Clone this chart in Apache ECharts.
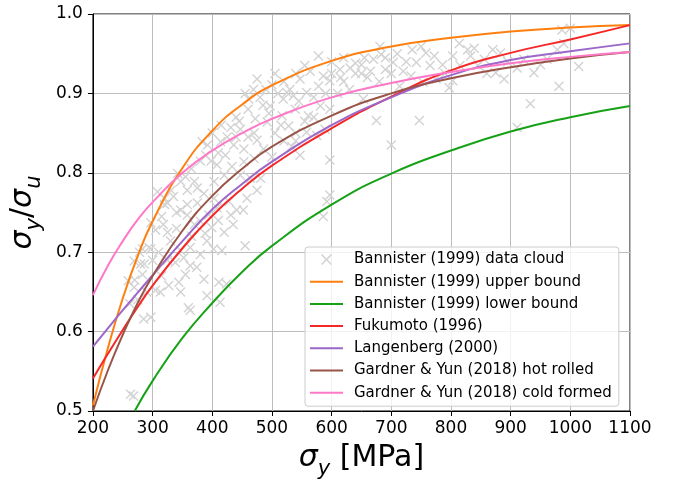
<!DOCTYPE html>
<html>
<head>
<meta charset="utf-8">
<script src="https://cdn.jsdelivr.net/npm/echarts@6/dist/echarts.min.js"></script>
<style>html,body{margin:0;padding:0;background:#fff}#c{width:675px;height:485px}</style>
</head>
<body>
<div id="c"></div>
<script>
// ---- data ----
const xTicks = [200, 300, 400, 500, 600, 700, 800, 900, 1000, 1100];
const yTicks = [0.5, 0.6, 0.7, 0.8, 0.9, 1.0];

const seriesNames = [
  'Bannister (1999) data cloud',
  'Bannister (1999) upper bound',
  'Bannister (1999) lower bound',
  'Fukumoto (1996)',
  'Langenberg (2000)',
  'Gardner & Yun (2018) hot rolled',
  'Gardner & Yun (2018) cold formed'
];

// scatter cloud: [yield stress (MPa), yield/ultimate ratio]
const cloudPoints = [
  [263,0.521],[268,0.519],
  [262,0.635],[269,0.656],[259,0.664],[280,0.685],[283,0.704],[294,0.706],[285,0.616],[297,0.618],[283,0.672],[269,0.689],
  [297,0.737],[278,0.700],[297,0.704],[286,0.685],[305,0.728],[318,0.735],
  [313,0.650],[327,0.658],[305,0.652],[347,0.650],[344,0.662],[355,0.672],[363,0.627],[360,0.630],[338,0.687],[352,0.693],
  [363,0.683],[374,0.681],[386,0.666],[411,0.662],[424,0.660],[413,0.637],[391,0.645],[330,0.714],[347,0.702],[363,0.706],
  [380,0.697],[391,0.714],[402,0.704],[416,0.702],[388,0.724],[399,0.731],[380,0.739],[394,0.747],[358,0.747],[347,0.753],
  [441,0.753],[452,0.753],[455,0.708],
  [475,0.918],[469,0.905],[500,0.911],[461,0.893],[497,0.884],[519,0.893],[431,0.857],[447,0.855],[472,0.868],[492,0.864],
  [517,0.872],[528,0.859],[392,0.835],[414,0.839],[436,0.835],[453,0.830],[475,0.841],[422,0.822],[408,0.810],[433,0.808],
  [453,0.814],[470,0.818],[486,0.830],[389,0.822],[370,0.789],[375,0.781],[403,0.789],[420,0.797],[447,0.797],[464,0.793],
  [481,0.793],[358,0.778],[386,0.774],[403,0.768],[375,0.762],[358,0.760],[408,0.756],[428,0.764],[431,0.747],[458,0.768],
  [475,0.778],[331,0.778],[320,0.768],[325,0.762],[383,0.839],[320,0.760],[308,0.776],[347,0.789],[342,0.799],
  [455,0.900],[490,0.905],[510,0.900],[485,0.885],[530,0.905],[440,0.870],[460,0.845],[505,0.850],[500,0.820],[520,0.840],
  [540,0.850],[495,0.875],
  [400,0.850],[415,0.860],[425,0.845],[445,0.865],[410,0.825],[398,0.815],[365,0.805],[380,0.815],[355,0.795],[335,0.770],
  [340,0.750],[315,0.745],[325,0.725],[340,0.730],[370,0.735],[410,0.740],[420,0.725],[435,0.735],[365,0.720],[310,0.700],
  [325,0.690],[300,0.690],[315,0.670],[290,0.650],[275,0.640],[270,0.665],
  [480,0.895],[505,0.925],[520,0.915],[540,0.925],[555,0.935],[545,0.890],[570,0.895],[590,0.900],[600,0.925],[615,0.920],
  [650,0.925],[655,0.945],[690,0.945],[710,0.950],[725,0.940],[735,0.955],[765,0.935],[790,0.925],[815,0.935],[845,0.935],
  [860,0.925],[870,0.955],[895,0.940],[515,0.860],[555,0.865],[570,0.870],[540,0.840],[460,0.880],[470,0.850],[440,0.845],
  [578,0.947],[564,0.928],[547,0.918],[586,0.922],[614,0.930],[631,0.932],[650,0.936],[670,0.943],[683,0.949],[681,0.959],
  [703,0.939],[720,0.928],[742,0.939],[758,0.951],[772,0.947],[786,0.936],[803,0.947],[814,0.963],[828,0.955],[833,0.947],
  [750,0.959],[536,0.897],[558,0.901],[578,0.909],[597,0.916],[539,0.880],[561,0.872],[581,0.884],[597,0.880],[653,0.893],
  [675,0.866],[747,0.866],[700,0.835],[597,0.816],[547,0.822],[533,0.833],[575,0.847],[589,0.855],[558,0.851],[597,0.772],
  [592,0.764],[586,0.745],[775,0.918],[797,0.907],[803,0.916],[753,0.914],[733,0.922],[714,0.909],[525,0.901],
  [620,0.915],[640,0.925],[660,0.920],[690,0.930],[610,0.900],[630,0.905],[680,0.915],[700,0.925],[600,0.940],[620,0.945],
  [640,0.938],[665,0.928],
  [839,0.957],[856,0.943],[883,0.951],[875,0.926],[889,0.918],[911,0.932],[939,0.926],[950,0.936],[961,0.943],[978,0.955],
  [989,0.963],[986,0.980],[1000,0.982],[1014,0.934],[981,0.909],[933,0.887],[911,0.857],[922,0.943]
];

// curves, sampled at these stresses
const curveX = [200, 225, 250, 275, 300, 350, 400, 450, 500, 600, 700, 800, 900, 1000, 1100];
const upperBound  = [0.507,0.579,0.642,0.695,0.739,0.806,0.853,0.886,0.910,0.941,0.959,0.970,0.978,0.983,0.986];
const fukumoto    = [0.541,0.572,0.602,0.631,0.658,0.705,0.746,0.780,0.809,0.856,0.896,0.929,0.951,0.968,0.986];
const langenberg  = [0.581,0.604,0.627,0.649,0.671,0.714,0.754,0.786,0.814,0.860,0.895,0.923,0.942,0.953,0.963];
const gyHotRolled = [0.500,0.551,0.596,0.636,0.670,0.727,0.771,0.805,0.833,0.872,0.900,0.919,0.933,0.944,0.952];
const gyColdFormed= [0.646,0.683,0.714,0.741,0.763,0.800,0.828,0.850,0.868,0.895,0.913,0.927,0.938,0.946,0.952];
const lowerX      = [270, 300, 350, 400, 450, 500, 600, 700, 800, 900, 1000, 1100];
const lowerBound  = [0.500,0.538,0.592,0.636,0.675,0.708,0.760,0.799,0.828,0.852,0.870,0.884];

// ---- chart ----
const colors = ['#d3d3d3', '#ff7f0e', '#17a117', '#f52828', '#9b67c9', '#995448', '#ff78c8'];
const xMark = 'path://M0,1 L1,0 L5,4 L9,0 L10,1 L6,5 L10,9 L9,10 L5,6 L1,10 L0,9 L4,5 Z';
const lineMark = 'path://M0,0 L33,0 L33,2 L0,2 Z';
const font = 'DejaVu Sans';

function pairs(xs, ys) { return xs.map((x, i) => [x, ys[i]]); }
function lineSeries(idx, xs, ys) {
  return {
    name: seriesNames[idx], type: 'line', data: pairs(xs, ys),
    smooth: 0.5, symbol: 'none', showSymbol: false,
    lineStyle: { color: colors[idx], width: 2 }, itemStyle: { color: colors[idx] },
    clip: true, z: 3
  };
}

const chart = echarts.init(document.getElementById('c'), null, { renderer: 'canvas' });
const axisNameRich = {
  s: { fontFamily: font, fontSize: 30, fontStyle: 'italic', lineHeight: 34, verticalAlign: 'top', color: '#000' },
  b: { fontFamily: font, fontSize: 21, fontStyle: 'italic', lineHeight: 21, padding: [16, 0, 0, 0], verticalAlign: 'top', color: '#000' },
  n: { fontFamily: font, fontSize: 30, lineHeight: 34, verticalAlign: 'top', color: '#000' }
};

chart.setOption({
  animation: false,
  backgroundColor: '#ffffff',
  textStyle: { fontFamily: font },
  grid: { left: 90, right: 45, top: 14, bottom: 70, show: true, borderColor: '#000', borderWidth: 1, backgroundColor: 'transparent' },
  xAxis: {
    type: 'value', min: xTicks[0], max: xTicks[xTicks.length - 1], interval: 100,
    axisLine: { show: true, lineStyle: { color: '#000', width: 1 } },
    axisTick: { show: true, inside: false, length: 5, lineStyle: { color: '#000' } },
    axisLabel: { color: '#000', fontSize: 17, fontFamily: font, margin: 9, formatter: v => String(v) },
    splitLine: { show: true, lineStyle: { color: '#bdbdbd', width: 1 } },
    name: '{s|σ}{b|y}{n| [MPa]}', nameLocation: 'middle', nameGap: 32,
    nameTextStyle: { rich: axisNameRich }
  },
  yAxis: {
    type: 'value', min: yTicks[0], max: yTicks[yTicks.length - 1], interval: 0.1,
    axisLine: { show: true, lineStyle: { color: '#000', width: 1 } },
    axisTick: { show: true, inside: false, length: 5, lineStyle: { color: '#000' } },
    axisLabel: { color: '#000', fontSize: 17, fontFamily: font, margin: 10, formatter: v => v.toFixed(1) },
    splitLine: { show: true, lineStyle: { color: '#bdbdbd', width: 1 } },
    name: '{s|σ}{b|y}{n|/}{s|σ}{b|u}', nameLocation: 'middle', nameGap: 44, nameRotate: 90,
    nameTextStyle: { rich: axisNameRich }
  },
  legend: {
    orient: 'vertical', left: 305, top: 247,
    padding: [5, 7, 6, 5],
    itemWidth: 33, itemHeight: 11, itemGap: 7.2,
    symbolKeepAspect: true,
    backgroundColor: 'rgba(255,255,255,0.8)', borderColor: '#cccccc', borderWidth: 1, borderRadius: 3,
    textStyle: { fontFamily: font, fontSize: 15, color: '#000', lineHeight: 15, padding: [0, 0, 0, 6] },
    data: seriesNames.map((n, i) => ({ name: n, icon: i === 0 ? xMark : lineMark })),
    z: 10
  },
  series: [
    {
      name: seriesNames[0], type: 'scatter', data: cloudPoints,
      symbol: xMark, symbolSize: 10, symbolKeepAspect: true,
      itemStyle: { color: colors[0], opacity: 1 }, z: 2
    },
    lineSeries(1, curveX, upperBound),
    lineSeries(2, lowerX, lowerBound),
    lineSeries(3, curveX, fukumoto),
    lineSeries(4, curveX, langenberg),
    lineSeries(5, curveX, gyHotRolled),
    lineSeries(6, curveX, gyColdFormed)
  ]
});
</script>
</body>
</html>
